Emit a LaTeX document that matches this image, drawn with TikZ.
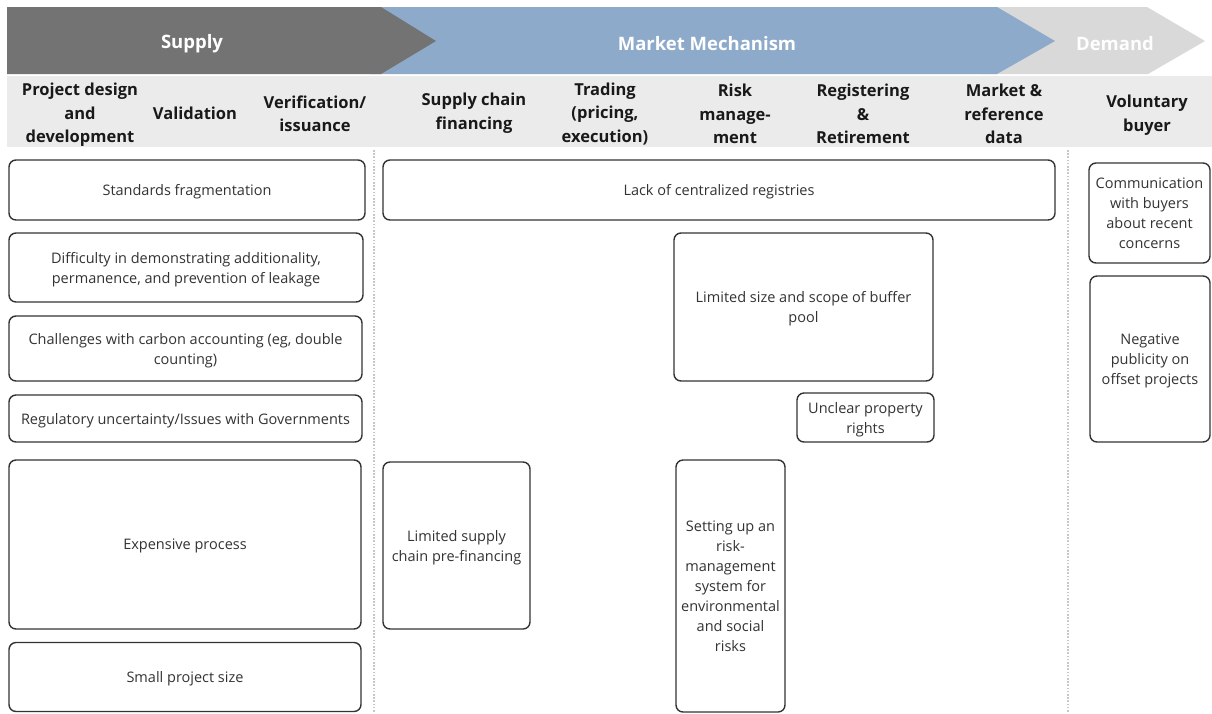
\documentclass[tikz,border=0pt]{standalone}
\usepackage{fontspec}
\setmainfont{Open Sans}
\definecolor{supgrey}{HTML}{737373}
\definecolor{mktblue}{HTML}{8EAACB}
\definecolor{demgrey}{HTML}{D9D9D9}
\definecolor{band}{HTML}{EBEBEB}
\definecolor{boxline}{HTML}{333333}
\definecolor{boxtext}{HTML}{333333}
\definecolor{sep}{HTML}{C8C8C8}
\tikzset{
  box/.style={draw=boxline, line width=1.4pt, rounded corners=7pt, align=center,
    text=boxtext, font=\fontsize{14.5}{20}\selectfont, inner sep=2pt, text depth=0pt},
  hdr/.style={align=center, font=\fontsize{16.5}{23.5}\selectfont\bfseries, text=black!90},
  ban/.style={font=\fontsize{18.5}{22}\selectfont\bfseries, text=white},
  sepline/.style={draw=sep, line width=1.8pt, dash pattern=on 1.6pt off 1.6pt}
}
\begin{document}
\begin{tikzpicture}[x=1pt,y=-1pt]
\useasboundingbox[fill=white] (0,0) rectangle (1212,713);
% banner
\fill[demgrey] (980,7) -- (1147,7) -- (1205,41) -- (1148,74) -- (980,74) -- cycle;
\fill[mktblue] (370,7) -- (997,7) -- (1055,41) -- (997,74) -- (370,74) -- cycle;
\fill[supgrey] (7,7) -- (381,7) -- (436,41) -- (381,74) -- (7,74) -- cycle;
\node[ban] (supply) at (192,44) {Supply};
\node[ban] (market) at (707,44) {Market Mechanism};
\node[ban, text=white!97!demgrey] (demand) at (1115,44) {Demand};
% header band
\fill[band] (7,76) rectangle (1212,147);
\node[hdr] (h1) at (80,115) {Project design\\and\\development};
\node[hdr] (h2) at (195,113) {Validation};
\node[hdr] (h3) at (315,114) {Verification/\\issuance};
\node[hdr] (h4) at (474,113) {Supply chain\\financing};
\node[hdr] (h5) at (605,114) {Trading\\(pricing,\\execution)};
\node[hdr] (h6) at (735,114) {Risk\\manage-\\ment};
\node[hdr] (h7) at (863,114) {Registering\\\&\\Retirement};
\node[hdr] (h8) at (1004,114) {Market \&\\reference\\data};
\node[hdr] (h9) at (1147,115) {Voluntary\\buyer};
% separators
\coordinate (s1a) at (374,150); \coordinate (s1b) at (374,713);
\coordinate (s2a) at (1068,150); \coordinate (s2b) at (1068,713);
\draw[sepline] (s1a) -- (s1b);
\draw[sepline] (s2a) -- (s2b);
% supply boxes
\node[box, minimum width=356pt, minimum height=60pt] (b1) at (187,190) {Standards fragmentation};
\node[box, minimum width=354pt, minimum height=69pt] (b2) at (186,267.5) {Difficulty in demonstrating additionality,\\permanence, and prevention of leakage};
\node[box, minimum width=353pt, minimum height=65pt] (b3) at (185.5,348.5) {Challenges with carbon accounting (eg, double\\counting)};
\node[box, minimum width=353pt, minimum height=47pt] (b4) at (185.5,418.5) {Regulatory uncertainty/Issues with Governments};
\node[box, minimum width=352pt, minimum height=169pt] (b5) at (185,544.5) {Expensive process};
\node[box, minimum width=352pt, minimum height=69pt] (b6) at (185,677) {Small project size};
% market boxes
\node[box, minimum width=672pt, minimum height=60pt] (b7) at (719,190) {Lack of centralized registries};
\node[box, minimum width=259pt, minimum height=148pt] (b8) at (803.5,307) {Limited size and scope of buffer\\pool};
\node[box, minimum width=137pt, minimum height=49pt] (b9) at (865.5,417.5) {Unclear property\\rights};
\node[box, minimum width=147pt, minimum height=167pt] (b10) at (456.5,545.5) {Limited supply\\chain pre-financing};
\node[box, minimum width=109pt, minimum height=252pt] (b11) at (730.5,586) {Setting up an\\risk-\\management\\system for\\environmental\\and social\\risks};
% demand boxes
\node[box, minimum width=121pt, minimum height=100pt] (b12) at (1149.5,213) {Communication\\with buyers\\about recent\\concerns};
\node[box, minimum width=120pt, minimum height=166pt] (b13) at (1150,359) {Negative\\publicity on\\offset projects};
\end{tikzpicture}
\end{document}
